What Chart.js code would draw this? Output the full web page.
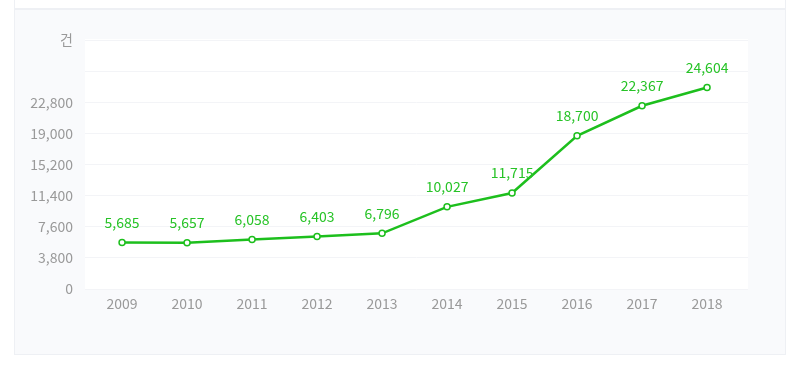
<!DOCTYPE html>
<html>
<head>
<meta charset="utf-8">
<script src="https://cdn.jsdelivr.net/npm/chart.js@4"></script>
<style>
  html, body { margin: 0; padding: 0; background: #fff; }
  #top { position: absolute; left: 14px; top: 0; width: 770px; height: 8px; border-left: 1px solid #eef0f4; border-right: 1px solid #eef0f4; border-bottom: 1px solid #eef0f4; }
  #panel { position: absolute; left: 14px; top: 9px; width: 770px; height: 344px; background: #f9fafc; border: 1px solid #eef0f4; }
  #wrap { position: absolute; left: 0; top: 0; width: 800px; height: 366px; }
</style>
</head>
<body>
<div id="top"></div>
<div id="panel"></div>
<div id="wrap"><canvas id="trend"></canvas></div>
<script>
// data
var years  = ['2009', '2010', '2011', '2012', '2013', '2014', '2015', '2016', '2017', '2018'];
var counts = [5685, 5657, 6058, 6403, 6796, 10027, 11715, 18700, 22367, 24604];
var yMax   = 30400;
var yStep  = 3800;
var unit   = '건';

var fontFamily = "'Noto Sans CJK KR', 'Noto Sans', sans-serif";
var green = '#1dbf1d';

// white plot background
var plotBg = {
  id: 'plotBg',
  beforeDraw: function(chart) {
    var a = chart.chartArea, c = chart.ctx;
    c.save();
    c.fillStyle = '#ffffff';
    c.fillRect(a.left, a.top - 1, a.right - a.left, a.bottom - a.top + 1);
    c.restore();
  }
};

// value labels over the points
var valueLabels = {
  id: 'valueLabels',
  afterDatasetsDraw: function(chart) {
    var c = chart.ctx;
    var meta = chart.getDatasetMeta(0);
    c.save();
    c.font = '14px ' + fontFamily;
    c.fillStyle = '#27c327';
    c.textAlign = 'center';
    c.textBaseline = 'middle';
    meta.data.forEach(function(pt, i) {
      c.fillText(counts[i].toLocaleString('en-US'), pt.x, pt.y - 20);
    });
    c.restore();
  }
};

var ctx = document.getElementById('trend').getContext('2d');
new Chart(ctx, {
  type: 'line',
  data: {
    datasets: [{
      data: counts.map(function(v, i) { return { x: i, y: v }; }),
      borderColor: green,
      borderWidth: 2.5,
      pointRadius: 3,
      pointBorderWidth: 1.5,
      pointBackgroundColor: '#ffffff',
      pointBorderColor: green,
      tension: 0
    }]
  },
  options: {
    responsive: true,
    maintainAspectRatio: false,
    animation: false,
    layout: { padding: { left: 0, top: 40, right: 52, bottom: 0 } },
    plugins: { legend: { display: false }, tooltip: { enabled: false } },
    scales: {
      x: {
        type: 'linear',
        min: -0.57,
        max: 9.63,
        afterBuildTicks: function(axis) {
          axis.ticks = years.map(function(y, i) { return { value: i }; });
        },
        afterFit: function(axis) { axis.height = 77; },
        grid: { display: false, drawTicks: false },
        border: { display: false },
        ticks: {
          padding: 6,
          color: '#999999',
          font: { family: fontFamily, size: 14 },
          callback: function(v) { return years[v]; }
        }
      },
      y: {
        min: 0,
        max: yMax,
        afterFit: function(axis) { axis.width = 85; },
        grid: { color: '#f3f4f7', drawTicks: false },
        border: { display: false },
        ticks: {
          stepSize: yStep,
          padding: 12,
          color: '#999999',
          font: { family: fontFamily, size: 14 },
          callback: function(v) {
            if (v === yMax) return unit;
            if (v === yMax - yStep) return '';
            return v.toLocaleString('en-US');
          }
        }
      }
    }
  },
  plugins: [plotBg, valueLabels]
});
</script>
</body>
</html>
